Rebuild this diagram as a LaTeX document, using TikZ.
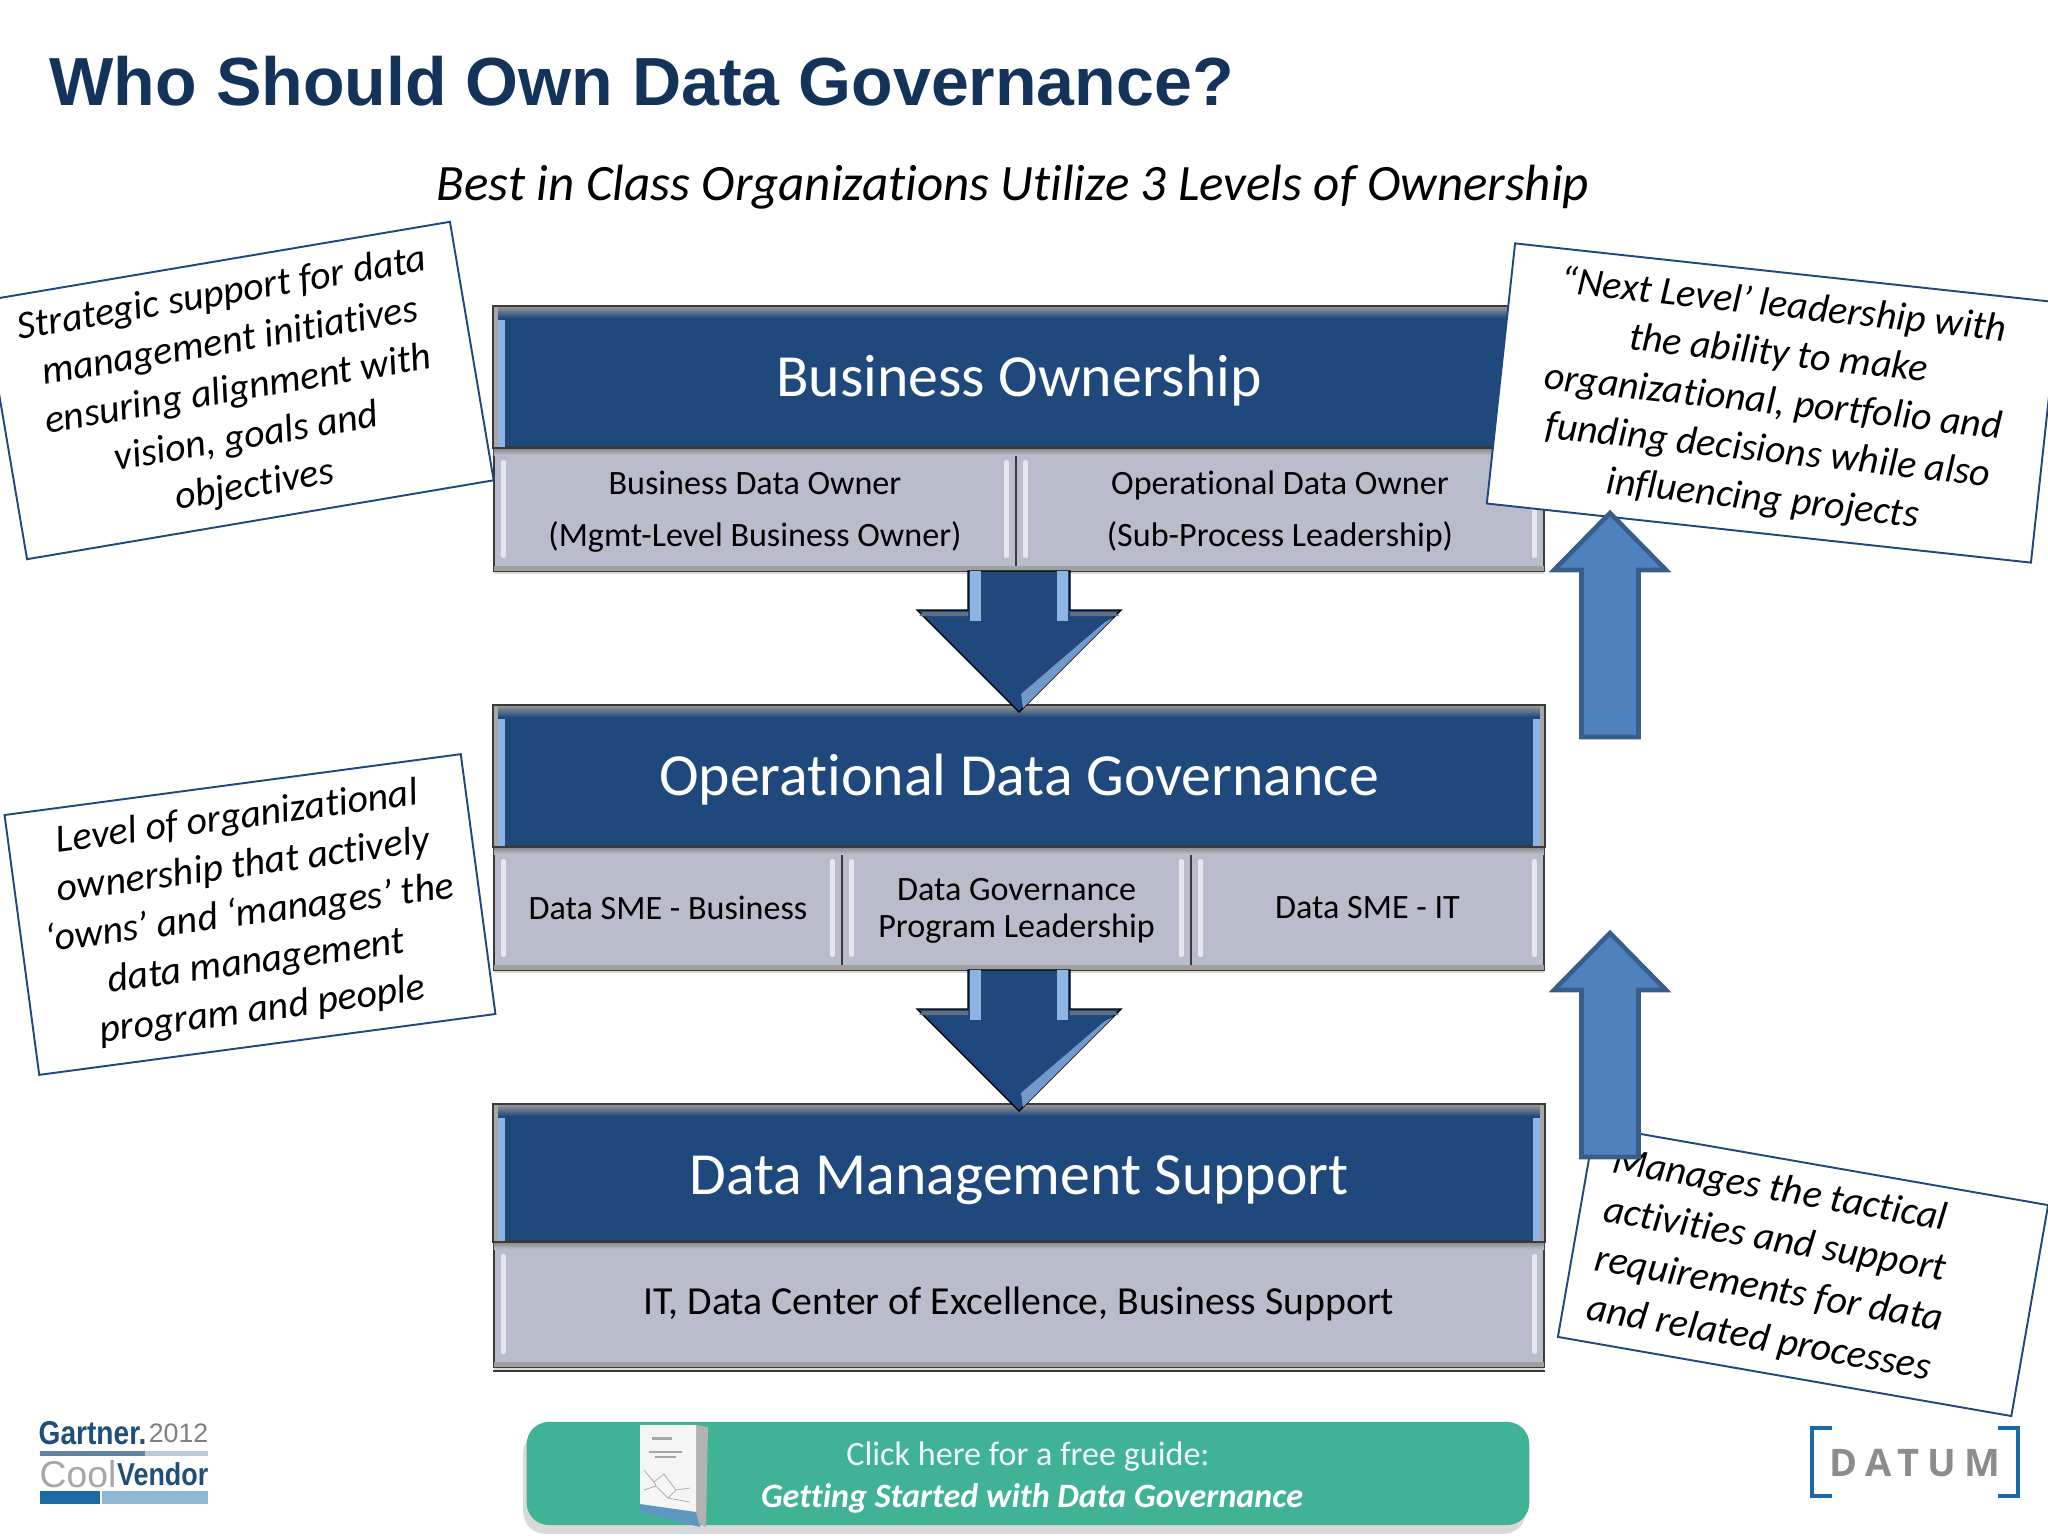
\documentclass[tikz,border=0pt]{standalone}
\usepackage{fontspec}
\setmainfont{Carlito}[Ligatures=NoCommon]
\newfontfamily\titlefont{Liberation Sans}
\newfontfamily\datumfont[LetterSpace=22]{Open Sans}
\newfontfamily\gartnerfont[FakeStretch=0.85]{Liberation Sans}
\usetikzlibrary{shadows}

\definecolor{bandblue}{HTML}{1F497D}
\definecolor{bandlight}{HTML}{8DB4E2}
\definecolor{subgrey}{HTML}{B9BDCB}
\definecolor{sublight}{HTML}{E4E7EE}
\definecolor{edgegrey}{HTML}{3A3A3A}
\definecolor{uparrowfill}{HTML}{4F81BD}
\definecolor{uparrowedge}{HTML}{385D8A}
\definecolor{titlenavy}{HTML}{14335A}
\definecolor{guidegreen}{HTML}{40B397}
\definecolor{datumblue}{HTML}{1C6AA5}
\definecolor{gartnerblue}{HTML}{1F4E79}

\newcommand{\subgap}{\rule{0pt}{8pt}}

\tikzset{
  bandbox/.style={draw=edgegrey, line width=0.5pt, fill=bandblue, text=white, inner sep=0pt,
    font=\fontsize{17}{20}\selectfont, text height=12pt, text depth=1pt, minimum height=1.40cm, minimum width=10.50cm},
  subbox/.style={draw=edgegrey, line width=0.5pt, fill=subgrey, text=black, inner sep=0pt, align=center,
    minimum height=1.24cm, font=\fontsize{9.7}{14.8}\selectfont,
    drop shadow={shadow xshift=0pt, shadow yshift=-0.8pt, opacity=0.3}},
  notebox/.style={draw=bandblue, line width=0.55pt, fill=white, inner sep=0pt, align=center,
    font=\fontsize{11.3}{13.8}\selectfont\itshape},
  downarrow/.style={draw=black, line width=0.4pt, fill=bandblue},
  uparrow/.style={draw=uparrowedge, line width=1.3pt, fill=uparrowfill, miter limit=4},
}

\begin{document}
\begin{tikzpicture}[x=0.01cm, y=-0.01cm]
    \path[use as bounding box, clip] (0,0) rectangle (2048,1536);

    % Title
    \node (title) [anchor=west, inner sep=0pt, text=titlenavy, font=\titlefont\bfseries\fontsize{19.36}{23}\selectfont] at (49,81) {Who Should Own Data Governance?};
    \node (subtitle) [inner sep=0pt, font=\fontsize{14.5}{17}\selectfont\itshape] at (1013,187) {Best in Class Organizations Utilize 3 Levels of Ownership};

    % Sub boxes
    \node (bizdata) [subbox, minimum width=5.22cm] at (755,509) {\subgap Business Data Owner\\(Mgmt-Level Business Owner)};
    \node (bizop) [subbox, minimum width=5.28cm] at (1280,509) {\subgap Operational Data Owner\\(Sub-Process Leadership)};
    \node (opsme) [subbox, minimum width=3.48cm] at (668,908) {Data SME - Business};
    \node (oplead) [subbox, minimum width=3.49cm, font=\fontsize{9.7}{10.4}\selectfont] at (1016.5,908) {\subgap Data Governance\\Program Leadership};
    \node (opit) [subbox, minimum width=3.53cm] at (1367.5,908) {Data SME - IT};
    \node (dmteam) [subbox, minimum width=10.50cm, minimum height=1.26cm, font=\fontsize{11.3}{13}\selectfont] at (1019,1304) {IT, Data Center of Excellence, Business Support};
    \draw[edgegrey, line width=0.5pt] ([yshift=-0.03cm]dmteam.south west) -- ([yshift=-0.03cm]dmteam.south east);

    % Bevel on the sub boxes
    \foreach \b in {bizdata,bizop,opsme,oplead,opit,dmteam} {
        \shade[top color=gray, bottom color=subgrey] ([xshift=0.01cm,yshift=-0.01cm]\b.north west) rectangle ([xshift=-0.01cm,yshift=-0.09cm]\b.north east);
        \fill[gray!75] ([xshift=0.01cm,yshift=0.06cm]\b.south west) rectangle ([xshift=-0.01cm,yshift=0.01cm]\b.south east);
        \fill[sublight, rounded corners=0.02cm] ([xshift=0.08cm,yshift=-0.14cm]\b.north west) rectangle ([xshift=0.13cm,yshift=0.14cm]\b.south west);
        \fill[sublight, rounded corners=0.02cm] ([xshift=-0.13cm,yshift=-0.14cm]\b.north east) rectangle ([xshift=-0.08cm,yshift=0.14cm]\b.south east);
    }

    % Bands
    \node (bizband) [bandbox] at (1019,377) {Business Ownership};
    \node (opband) [bandbox] at (1019,776) {Operational Data Governance};
    \node (dmband) [bandbox, minimum height=1.36cm, text height=13pt] at (1019,1173) {Data Management Support};

    % Bevel on the bands
    \foreach \b in {bizband,opband,dmband} {
        \shade[top color=gray!85, bottom color=bandblue] ([xshift=0.01cm,yshift=-0.01cm]\b.north west) rectangle ([xshift=-0.01cm,yshift=-0.12cm]\b.north east);
        \fill[gray!70] ([xshift=0.01cm,yshift=-0.01cm]\b.north west) rectangle ([xshift=0.05cm,yshift=0.01cm]\b.south west);
        \fill[gray!70] ([xshift=-0.05cm,yshift=-0.01cm]\b.north east) rectangle ([xshift=-0.01cm,yshift=0.01cm]\b.south east);
        \fill[bandlight] ([xshift=0.05cm,yshift=-0.14cm]\b.north west) rectangle ([xshift=0.12cm,yshift=0.01cm]\b.south west);
        \fill[bandlight] ([xshift=-0.12cm,yshift=-0.14cm]\b.north east) rectangle ([xshift=-0.05cm,yshift=0.01cm]\b.south east);
    }
    \foreach \b in {bizband,opband,dmband} \draw[edgegrey, line width=0.5pt] (\b.north west) rectangle (\b.south east);

    % Down arrows between the levels
    \coordinate (bizfoot) at (1019,571);
    \coordinate (opfoot) at (1019,970);
    \coordinate (optip) at (1019,712);
    \coordinate (dmtip) at (1019,1111);
    \foreach \a/\b in {bizfoot/optip, opfoot/dmtip} {
        \draw[downarrow] (\a) ++(-51,0) -- ++(0,39) -- ++(-51,0) -- (\b) -- ++(102,-102) -- ++(-51,0) -- ++(0,-39) -- cycle;
        \fill[bandlight] (\a) ++(-49,0) rectangle ++(11,50);
        \fill[bandlight] (\a) ++(38,0) rectangle ++(11,50);
        \fill[bandlight!75!bandblue] (\b) ++(2,-18) -- ++(84,-72) -- ++(8,-4) -- ++(-90,90) -- cycle;
        \fill[gray!70!bandblue] (\b) ++(-96,-100) -- ++(45,0) -- ++(0,4) -- ++(-49,0) -- cycle;
        \fill[gray!70!bandblue] (\b) ++(96,-100) -- ++(-45,0) -- ++(0,4) -- ++(49,0) -- cycle;
    }

    % Notes
    \node (notestrategic) [notebox, rotate=9.6, minimum width=4.73cm, minimum height=2.62cm] at (238.5,390.5) {Strategic support for data\\management initiatives\\ensuring alignment with\\vision, goals and\\objectives};
    \node (notelevel) [notebox, rotate=7.6, minimum width=4.60cm, minimum height=2.62cm] at (250,914.5) {Level of organizational\\ownership that actively\\‘owns’ and ‘manages’ the\\data management\\program and people};
    \node (notenext) [notebox, rotate=-6.2, minimum width=5.47cm, minimum height=2.615cm] at (1773,403) {“Next Level’ leadership with\\the ability to make\\organizational, portfolio and\\funding decisions while also\\influencing projects};
    \node (notetactical) [notebox, rotate=-9.9, text width=4.12cm, inner xsep=0.24cm, align=flush left, minimum height=2.14cm, font=\fontsize{11.3}{14.2}\selectfont\itshape] at (1803,1271) {Manages the tactical\\activities and support\\requirements for data\\and related processes};

    % Up arrows
    \coordinate (uptipa) at (1610,513);
    \coordinate (uptipb) at (1610,933);
    \foreach \t in {uptipa,uptipb} {
        \draw[uparrow] (\t) -- ++(-56,57) -- ++(27.5,0) -- ++(0,167) -- ++(57,0) -- ++(0,-167) -- ++(27.5,0) -- cycle;
    }

    % Guide button
    \node (guidebtn) [fill=guidegreen, rounded corners=0.22cm, minimum width=10.02cm, minimum height=1.03cm, inner sep=0pt,
        drop shadow={shadow xshift=-1pt, shadow yshift=-2.5pt, opacity=0.3}] at (1028,1473.5) {};
    \node (guidetop) [inner sep=0pt, text=white!92!guidegreen, font=\fontsize{9.7}{11}\selectfont] at (1028,1457) {Click here for a free guide:};
    \node (guidebottom) [inner sep=0pt, text=white, font=\fontsize{9.7}{11}\selectfont\bfseries\itshape] at (1032,1498) {Getting Started with Data Governance};

    % Book on the button
    \fill[gray!60] (696,1425) -- (708,1427) -- (706,1527) -- (696,1522) -- cycle;
    \fill[white!96!black] (640,1425) -- (696,1425) -- (696,1522) -- (640,1510) -- cycle;
    \fill[datumblue!70] (640,1504) -- (696,1512) -- (700,1527) -- (640,1512) -- cycle;
    \draw[gray!70, line width=0.2pt] (644,1470) -- (654,1482) -- (664,1474) -- (676,1490) -- (690,1488) (644,1490) -- (656,1486) -- (668,1498) -- (690,1502) (654,1482) -- (656,1486) (676,1490) -- (668,1498);
    \fill[gray!70] (652,1437) rectangle (672,1440);
    \fill[gray!70] (649,1451) rectangle (682,1453);
    \fill[gray!70] (655,1456) rectangle (676,1458);

    % Gartner logo
    \node (gartner) [anchor=west, inner sep=0pt, text=gartnerblue, font=\gartnerfont\bfseries\fontsize{9.4}{11}\selectfont] at (38,1433) {Gartner.};
    \node (year) [anchor=east, inner sep=0pt, text=gray, font=\titlefont\fontsize{7.6}{10}\selectfont] at (209,1433) {2012};
    \fill[gartnerblue!70] (40,1451) rectangle (145,1456);
    \fill[gartnerblue!30] (145,1451) rectangle (208,1456);
    \node (cool) [anchor=west, inner sep=0pt, text=gray!70, font=\titlefont\fontsize{10.6}{12}\selectfont] at (39,1474) {Cool};
    \node (vendor) [anchor=east, inner sep=0pt, text=gartnerblue, font=\gartnerfont\bfseries\fontsize{9}{11}\selectfont] at (209,1474) {Vendor};
    \fill[datumblue] (40,1491) rectangle (100,1504);
    \fill[datumblue!50] (102,1491) rectangle (208,1504);

    % Datum logo
    \draw[datumblue, line width=1.1pt] (1832,1428) -- (1812,1428) -- (1812,1496) -- (1832,1496);
    \draw[datumblue, line width=1.1pt] (1998,1428) -- (2018,1428) -- (2018,1496) -- (1998,1496);
    \node (datum) [inner sep=0pt, text=gray!110!black, font=\datumfont\bfseries\fontsize{10.8}{13}\selectfont] at (1915,1463) {DATUM};
\end{tikzpicture}
\end{document}
